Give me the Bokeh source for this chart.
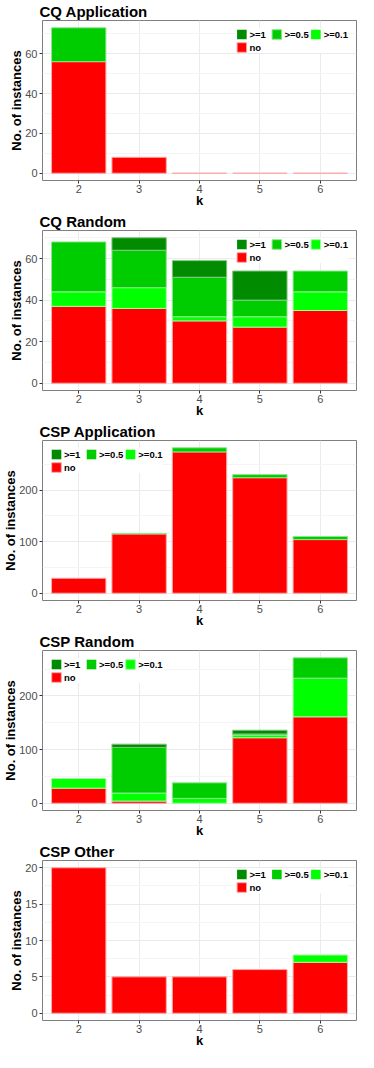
from bokeh.plotting import figure
from bokeh.models import Range1d, FixedTicker, Legend, LegendItem, ColumnDataSource
from bokeh.layouts import column
from bokeh.embed import file_html
from bokeh.resources import INLINE

ks = [2, 3, 4, 5, 6]
tick_labels = ["2", "3", "4", "5", "6"]
series_names = ["no", ">=0.1", ">=0.5", ">=1"]

titles = ["CQ Application", "CQ Random", "CSP Application", "CSP Random", "CSP Other"]

cq_app_no = [56, 8, 0, 0, 0]
cq_app_01 = [0, 0, 0, 0, 0]
cq_app_05 = [17, 0, 0, 0, 0]
cq_app_1 = [0, 0, 0, 0, 0]

cq_rand_no = [37, 36, 30, 27, 35]
cq_rand_01 = [7, 10, 2, 5, 9]
cq_rand_05 = [24, 18, 19, 8, 10]
cq_rand_1 = [0, 6, 8, 14, 0]

csp_app_no = [29, 115, 274, 224, 104]
csp_app_01 = [0, 0, 0, 0, 0]
csp_app_05 = [0, 1, 8, 6, 6]
csp_app_1 = [0, 0, 0, 0, 0]

csp_rand_no = [28, 4, 0, 122, 161]
csp_rand_01 = [18, 15, 9, 5, 72]
csp_rand_05 = [0, 85, 29, 2, 38]
csp_rand_1 = [0, 6, 0, 7, 0]

csp_other_no = [20, 5, 5, 6, 7]
csp_other_01 = [0, 0, 0, 0, 1]
csp_other_05 = [0, 0, 0, 0, 0]
csp_other_1 = [0, 0, 0, 0, 0]

FILL = {"no": "#FF0000", ">=0.1": "#00FF00", ">=0.5": "#00CD00", ">=1": "#008B00"}
LINE = {"no": "#ffa8a8", ">=0.1": "#9cff9c", ">=0.5": "#8ee68e", ">=1": "#80c580"}
FONT = "Liberation Sans"


def make_panel(title, no, g01, g05, g1, ystep, legend_loc):
    vals = {"no": no, ">=0.1": g01, ">=0.5": g05, ">=1": g1}
    totals = [a + b + c + d for a, b, c, d in zip(no, g01, g05, g1)]
    ymax = max(totals)
    pad = 0.05 * ymax
    p = figure(width=358, height=210, output_backend="svg", toolbar_location=None,
               x_range=Range1d(1.4, 6.6), y_range=Range1d(-pad, ymax + pad),
               min_border_left=0, min_border_right=2, min_border_top=0, min_border_bottom=0)
    p.title.text = title
    p.title.text_font = FONT
    p.title.text_font_size = "15px"
    p.title.text_font_style = "bold"
    p.title.text_color = "black"
    p.title.align = "left"
    p.title.standoff = 1
    p.title.offset = -3

    bottoms = [0] * len(ks)
    rends = {}
    for name in series_names:
        bs, ts, la = [], [], []
        for i, k in enumerate(ks):
            v = vals[name][i]
            bs.append(bottoms[i])
            ts.append(bottoms[i] + v)
            la.append(1.0 if (v > 0 or (name == "no" and totals[i] == 0)) else 0.0)
            bottoms[i] += v
        src = ColumnDataSource(dict(x=ks, bottom=bs, top=ts, la=la))
        rends[name] = p.vbar(x="x", bottom="bottom", top="top", width=0.9, source=src,
                             fill_color=FILL[name], line_color=LINE[name],
                             line_alpha="la", line_width=1)

    major = list(range(0, int(ymax + pad) + 1, ystep))
    minor = [m + ystep / 2 for m in major if m + ystep / 2 <= ymax + pad]
    p.yaxis.ticker = FixedTicker(ticks=major, minor_ticks=minor)
    p.xaxis.ticker = FixedTicker(ticks=ks)
    p.xaxis.major_label_overrides = {k: t for k, t in zip(ks, tick_labels)}

    p.xaxis.axis_label = "k"
    p.yaxis.axis_label = "No. of instances"
    for ax in (p.xaxis, p.yaxis):
        ax.axis_label_text_font = FONT
        ax.axis_label_text_font_size = "13px"
        ax.axis_label_text_font_style = "bold"
        ax.axis_label_text_color = "black"
        ax.major_label_text_font = FONT
        ax.major_label_text_font_size = "11px"
        ax.major_label_text_color = "#4d4d4d"
        ax.axis_line_color = None
        ax.major_tick_line_color = "#333333"
        ax.major_tick_in = 0
        ax.major_tick_out = 3
        ax.minor_tick_line_color = None
    p.xaxis.axis_label_standoff = -3
    p.xaxis.major_label_standoff = 1
    p.yaxis.axis_label_standoff = -2
    p.yaxis.major_label_standoff = 1

    p.outline_line_color = "#7f7f7f"
    p.outline_line_width = 1
    p.xgrid.grid_line_color = "#ebebeb"
    p.ygrid.grid_line_color = "#ebebeb"
    p.ygrid.minor_grid_line_color = "#f4f4f4"
    p.background_fill_color = "white"

    legend = Legend(items=[LegendItem(label=">=1", renderers=[rends[">=1"]]),
                           LegendItem(label=">=0.5", renderers=[rends[">=0.5"]]),
                           LegendItem(label=">=0.1", renderers=[rends[">=0.1"]]),
                           LegendItem(label="no", renderers=[rends["no"]])],
                    orientation="horizontal", ncols=3, location=legend_loc)
    legend.label_text_font = FONT
    legend.label_text_font_size = "9.5px"
    legend.label_text_font_style = "bold"
    legend.label_text_color = "black"
    legend.glyph_width = 12
    legend.glyph_height = 12
    legend.label_height = 12
    legend.label_standoff = 2
    legend.spacing = 1
    legend.padding = 2
    legend.margin = 8
    legend.background_fill_color = "white"
    legend.background_fill_alpha = 1
    legend.border_line_color = None
    p.add_layout(legend)
    return p


panels = [
    make_panel(titles[0], cq_app_no, cq_app_01, cq_app_05, cq_app_1, 20, "top_right"),
    make_panel(titles[1], cq_rand_no, cq_rand_01, cq_rand_05, cq_rand_1, 20, "top_right"),
    make_panel(titles[2], csp_app_no, csp_app_01, csp_app_05, csp_app_1, 100, "top_left"),
    make_panel(titles[3], csp_rand_no, csp_rand_01, csp_rand_05, csp_rand_1, 100, "top_left"),
    make_panel(titles[4], csp_other_no, csp_other_01, csp_other_05, csp_other_1, 5, "top_right"),
]

layout = column(*panels, spacing=0)
open("out.html", "w").write(file_html(layout, INLINE))
